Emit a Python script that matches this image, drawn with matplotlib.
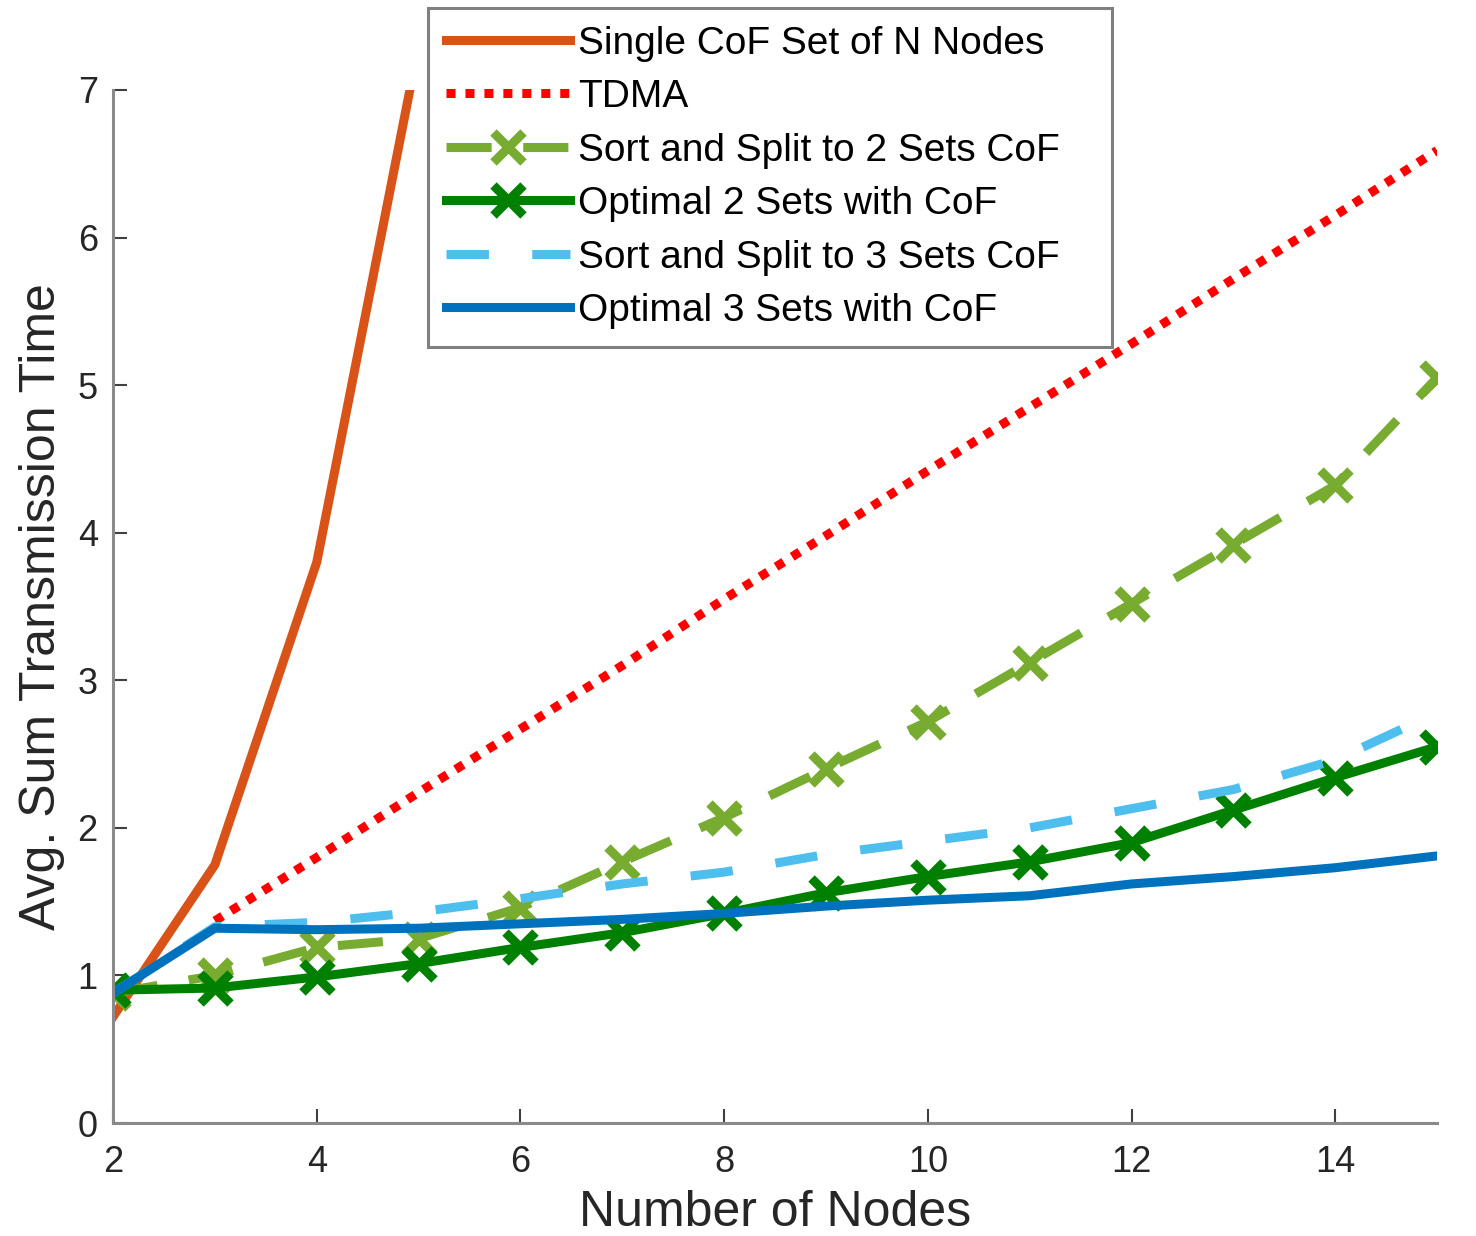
import matplotlib.pyplot as plt

plt.rcParams['font.family'] = ['Liberation Sans', 'DejaVu Sans']

nodes = list(range(2, 16))
single_nodes = [2, 3, 4, 5]
single_cof = [0.72, 1.75, 3.8, 7.3]
tdma_nodes = list(range(3, 16))
tdma = [1.37, 1.80, 2.24, 2.67, 3.10, 3.55, 3.98, 4.42, 4.85, 5.28, 5.72, 6.15, 6.59]
split2 = [0.88, 1.00, 1.19, 1.25, 1.46, 1.77, 2.07, 2.40, 2.72, 3.12, 3.52, 3.92, 4.32, 5.05]
opt2 = [0.90, 0.915, 0.99, 1.08, 1.19, 1.29, 1.42, 1.56, 1.67, 1.77, 1.90, 2.12, 2.34, 2.55]
split3 = [0.88, 1.33, 1.36, 1.43, 1.52, 1.62, 1.70, 1.82, 1.91, 2.00, 2.13, 2.26, 2.46, 2.78]
opt3 = [0.88, 1.32, 1.31, 1.32, 1.35, 1.38, 1.42, 1.47, 1.51, 1.54, 1.62, 1.67, 1.73, 1.81]

fig = plt.figure(figsize=(14.76, 12.36), dpi=100)
ax = fig.add_axes([0.0766, 0.0914, 0.8970, 0.8358])

lw = 6.5
ax.plot(single_nodes, single_cof, color='#D95319', lw=lw, label='Single CoF Set of N Nodes')
ax.plot(tdma_nodes, tdma, color='#FF0000', lw=lw, dashes=(1, 1.1), dash_capstyle='butt',
        label='TDMA')
ax.plot(nodes, split2, color='#77AC30', lw=lw, dashes=(5, 3.5), marker='x', ms=21, mew=6.5,
        label='Sort and Split to 2 Sets CoF')
ax.plot(nodes, opt2, color='#008000', lw=lw, marker='x', ms=21, mew=6.5,
        label='Optimal 2 Sets with CoF')
ax.plot(nodes, split3, color='#4DBEEE', lw=lw, dashes=(4.7, 4.8),
        label='Sort and Split to 3 Sets CoF')
ax.plot(nodes, opt3, color='#0072BD', lw=lw, label='Optimal 3 Sets with CoF')

ax.set_xlim(2, 15)
ax.set_ylim(0, 7)
ax.set_xticks([2, 4, 6, 8, 10, 12, 14])
ax.set_yticks(range(0, 8))
for s in ['top', 'right']:
    ax.spines[s].set_visible(False)
for s in ['left', 'bottom']:
    ax.spines[s].set_color('#8a8a8a')
    ax.spines[s].set_linewidth(2.2)
ax.tick_params(direction='in', length=10, width=1.5, color='#404040',
               labelsize=26, labelcolor='#262626')
ax.tick_params(axis='x', pad=16)
ax.tick_params(axis='y', pad=11)

ax.set_xlabel('Number of Nodes', fontsize=36, color='#262626', labelpad=7)
ax.set_ylabel('Avg. Sum Transmission Time', fontsize=36, color='#262626', labelpad=9)

leg = ax.legend(loc='upper left', bbox_to_anchor=(0.29, 0.9835, 0.4634, 0.01),
                bbox_transform=fig.transFigure, mode='expand',
                borderaxespad=0, fontsize=28, handlelength=3.2, handletextpad=0.2,
                labelspacing=0.45, fancybox=False, framealpha=1, borderpad=0.45)
leg.get_frame().set_edgecolor('#808080')
leg.get_frame().set_linewidth(2.2)

fig.savefig('out.png', dpi=100)
